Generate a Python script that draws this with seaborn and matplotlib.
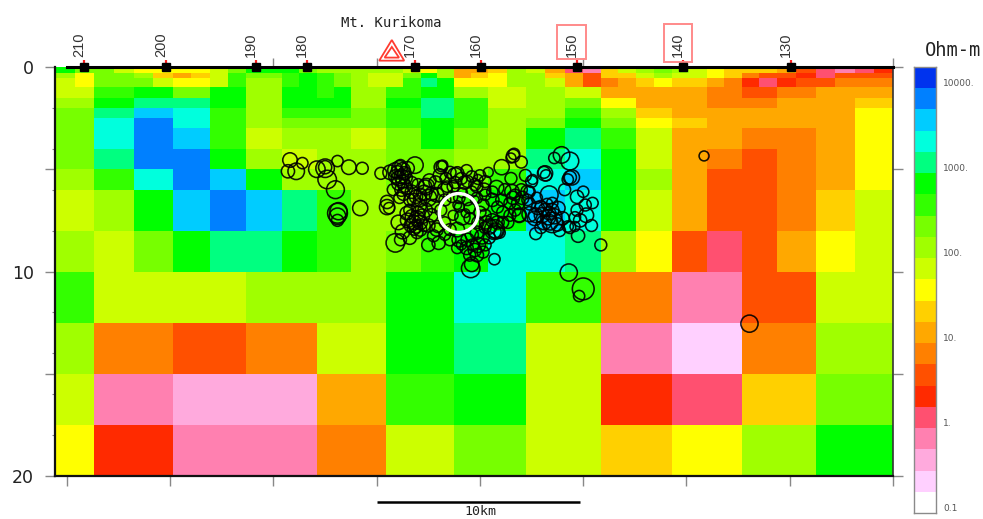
import numpy as np
import matplotlib
matplotlib.use("Agg")
import matplotlib.pyplot as plt
from matplotlib.colors import ListedColormap, BoundaryNorm
from matplotlib.patches import Polygon, Rectangle
import seaborn as sns

# colour classes, low resistivity to high (0.1 ... 10000+ ohm-m, four classes per decade)
class_colors = ["#ffffff", "#ffd0ff", "#ffaadd", "#ff80b0", "#ff5070", "#ff2a00", "#ff5000",
                "#ff8000", "#ffa800", "#ffd000", "#ffff00", "#ccff00", "#a0ff00", "#77ff00",
                "#33ff00", "#00ff00", "#00ff80", "#00ffdd", "#00ccff", "#0080ff", "#0033ee"]

distance_edges = [-0.58, 1.31, 3.24, 5.13, 6.92, 8.66, 10.41, 12.10, 13.75, 15.44, 17.13, 18.73,
                  20.38, 22.22, 24.10, 25.85, 27.54, 29.28, 30.98, 32.67, 34.37, 36.25, 38.14, 40.0]
depth_edges = [0, 0.3, 0.55, 1, 1.5, 2, 2.5, 3, 4, 5, 6, 8, 10, 12.5, 15, 17.5, 20]

# shallow layers: two values for each column
shallow_classes = [
    [15,13, 13,11, 10,10, 10,10, 11,13, 15,15, 15,13, 12,12, 12,12, 12,11, 10,12, 8,8,
     9,12, 11,8, 4,3, 9,11, 12,13, 12,11, 10,9, 9,9, 8,6, 4,3, 4,5],
    [12,10, 13,13, 12,9, 8,9, 11,14, 13,13, 14,15, 14,13, 12,11, 11,13, 15,12, 8,9,
     10,12, 12,9, 8,6, 9,9, 11,12, 11,11, 10,9, 7,6, 6,5, 4,6, 6,6],
    [11,10, 13,13, 13,11, 10,10, 11,14, 12,12, 14,15, 14,13, 12,11, 11,14, 16,15, 10,10,
     10,12, 12,11, 8,6, 7,8, 9,10, 9,9, 8,7, 5,4, 5,6, 6,7, 7,7],
    [11,11, 14,14, 15,15, 13,13, 15,15, 12,12, 15,15, 14,15, 12,12, 14,14, 15,15, 12,12,
     11,11, 12,12, 11,11, 8,8, 8,8, 8,8, 7,7, 6,6, 7,7, 8,8, 8,8],
]
# deeper layers: one value for each column
deep_classes = [
    [12,15,16,16,15,12,15,15,12,15,16,14,11,12,13,10,8,8,7,7,8,8,9],
    [13,16,18,17,14,12,14,14,13,14,16,14,12,12,14,12,9,8,8,8,8,8,10],
    [13,17,19,17,14,12,13,13,13,14,15,14,12,13,15,13,10,9,8,8,8,8,10],
    [13,17,19,18,14,11,12,12,11,13,15,13,12,15,16,14,11,8,8,7,7,8,10],
    [13,16,19,19,15,12,11,12,12,13,13,12,12,16,17,15,11,8,7,6,7,8,10],
    [12,14,17,19,18,15,12,12,12,13,13,13,14,17,18,15,12,8,6,6,7,8,10],
    [11,12,15,18,19,18,16,14,12,12,13,14,15,18,17,15,11,8,6,6,7,9,11],
    [12,11,13,15,16,16,15,14,12,13,14,15,17,17,16,12,10,6,4,6,8,10,11],
    [14,11,11,11,11,12,12,12,12,15,15,17,17,14,14,7,7,3,3,6,6,11,11],
    [12,7,7,6,6,7,7,11,11,15,15,16,16,11,11,3,3,1,1,7,7,12,12],
    [11,3,3,2,2,2,2,8,8,14,14,15,15,11,11,5,5,4,4,9,9,13,13],
    [10,5,5,3,3,3,3,7,7,11,11,13,13,11,11,9,9,10,10,12,12,15,15],
]

# stations along the profile
station_km = [0.82, 4.79, 9.15, 11.62, 16.84, 20.04, 24.69, 29.82, 35.04]
station_labels = ["210", "200", "190", "180", "170", "160", "150", "140", "130"]

# earthquakes
quake_km = [
    10.8,10.7,11.1,11.4,12.1,12.5,12.5,12.6,13.0,13.1,13.65,14.3,15.2,14.2,13.1,13.1,13.1,13.15,15.9,15.5,15.5,15.6,
    16.1,16.25,16.0,16.35,16.2,16.05,16.4,15.9,16.85,16.5,16.15,16.25,16.05,16.35,16.2,15.65,16.3,16.45,16.1,15.9,
    16.95,16.8,17.1,16.9,16.7,17.2,17.0,16.8,17.1,16.65,17.3,16.5,16.95,16.6,16.45,17.05,16.8,17.35,17.5,17.3,17.65,17.1,16.7,17.75,17.9,17.65,17.5,17.95,17.75,16.25,16.05,16.15,16.6,16.9,17.35,16.7,17.0,17.5,18.0,
    18.1,18.15,18.2,18.05,18.8,19.35,17.4,18.3,18.7,19.4,19.85,17.9,18.55,19.0,19.3,19.15,19.5,18.9,19.75,19.4,19.0,18.9,18.8,18.4,19.25,19.75,18.65,19.15,19.6,19.9,18.9,19.0,19.4,18.9,19.35,19.85,19.75,19.5,19.1,19.55,19.6,
    21.6,21.5,21.65,22.0,21.05,20.4,21.5,20.25,20.8,20.6,21.05,21.55,21.6,21.7,21.45,21.85,22.05,22.0,22.3,22.5,21.9,20.85,20.15,19.85,20.25,20.6,
    20.7,20.75,20.7,20.45,20.3,20.6,20.85,20.25,20.1,20.45,19.9,20.25,19.85,20.7,21.1,20.95,19.6,19.65,20.15,
    23.35,23.15,23.5,23.3,23.0,23.6,23.4,23.1,22.7,22.4,22.8,23.8,23.5,23.25,22.95,24.0,23.75,23.5,22.7,22.65,23.35,23.15,23.1,23.2,22.2,22.55,22.4,22.3,24.35,23.95,23.6,24.45,24.35,24.25,25.0,24.7,25.45,24.7,25.15,24.6,24.85,24.35,24.75,24.25,24.6,25.85,21.9,21.35,
    24.3,25.0,24.8,33.05,30.85,
    17.55,17.85,18.35,18.55,19.1,19.6,20.0,20.2,19.5,20.0,20.25,19.9,21.1,21.45,21.2,21.7,22.4,22.75,18.3,18.1,18.3,18.55,18.3,18.7,17.1,15.8,16.6,22.95,23.85,25.1,24.1,25.4,
]
quake_depth = [
    4.55,5.1,5.1,4.7,5.0,4.95,4.9,5.5,6.0,4.6,4.9,4.95,5.2,6.9,7.15,7.3,7.5,7.05,8.6,6.6,6.85,6.9,
    4.95,5.05,5.15,5.2,5.35,5.45,5.4,5.05,4.8,4.95,4.8,5.6,5.7,5.8,6.0,5.15,6.2,5.95,6.4,5.35,
    7.4,7.6,7.6,7.8,7.3,7.3,7.15,7.9,7.95,7.75,7.75,7.5,8.1,7.0,7.15,6.8,6.5,7.0,6.4,6.15,6.2,6.25,6.1,6.8,6.25,7.25,7.75,7.8,8.25,8.05,7.6,8.45,8.35,6.35,5.85,5.65,5.75,8.7,8.6,
    4.9,4.85,4.8,5.3,5.3,5.05,5.85,6.0,5.85,5.6,5.85,7.95,7.95,6.85,7.15,7.35,7.4,6.75,6.5,6.5,6.4,5.2,5.65,5.85,5.65,5.75,6.35,6.15,6.1,5.5,7.95,8.45,8.45,8.85,8.85,8.1,8.95,9.2,8.7,9.85,9.65,
    4.35,4.45,4.25,4.65,4.9,5.15,5.45,5.6,5.9,6.5,6.5,6.1,6.4,6.25,6.65,6.65,6.4,6.0,6.1,5.6,7.25,6.85,6.75,6.4,6.25,6.1,
    7.95,8.0,8.05,7.8,7.6,7.5,7.6,7.85,8.3,8.35,8.7,8.7,9.2,9.4,7.6,8.1,8.2,8.7,9.05,
    7.15,7.0,7.0,7.35,7.25,7.3,7.6,7.6,7.25,7.2,6.9,6.9,6.65,6.7,6.8,7.4,7.7,7.6,8.15,7.4,6.25,5.2,5.15,5.3,5.3,5.5,6.1,6.5,4.6,4.3,4.45,5.4,5.4,5.5,6.1,6.35,6.65,7.0,7.25,7.35,7.5,7.85,8.25,7.8,7.8,8.7,7.25,7.6,
    10.05,10.85,11.2,12.55,4.35,
    5.55,5.65,5.45,5.15,5.45,5.35,5.3,6.0,6.9,7.1,7.25,7.6,7.1,7.25,6.0,7.0,6.7,6.4,6.5,7.0,7.6,8.45,8.2,7.25,6.5,6.0,6.5,7.85,8.0,6.75,6.0,7.75,
]
quake_mag = [
    2.2,2.0,2.5,1.7,2.5,2.8,2.0,2.8,2.7,1.7,2.2,1.8,1.8,2.3,3.0,2.5,1.8,2.6,2.8,2.0,2.3,1.7,
    2.3,2.3,2.0,2.0,2.2,2.2,2.0,2.3,2.5,2.0,1.7,2.0,2.0,2.0,2.0,2.2,2.0,1.7,1.7,2.0,
    2.3,2.2,2.2,2.0,2.0,2.2,2.0,2.0,2.0,2.0,1.8,2.2,1.8,1.8,2.0,2.2,2.0,2.2,2.5,2.3,2.0,2.0,2.0,2.0,2.2,2.0,2.0,1.8,1.8,2.2,2.2,1.8,2.0,2.0,2.0,1.8,1.8,2.0,2.0,
    2.0,1.7,1.5,2.0,2.3,1.7,2.5,2.2,1.8,1.8,1.8,2.0,1.8,1.5,1.3,2.3,1.7,1.3,1.3,1.7,1.7,2.0,1.8,1.7,2.0,1.8,1.7,1.5,1.7,1.5,2.2,2.2,2.0,1.7,2.0,2.0,2.0,1.8,1.5,2.8,2.2,
    2.0,1.5,1.7,1.8,2.3,1.5,1.8,1.8,2.2,2.0,1.8,2.2,2.0,1.7,1.8,2.0,2.0,1.8,2.0,1.8,2.0,1.8,1.8,1.7,1.7,1.7,
    3.0,2.3,2.0,2.3,2.0,2.0,2.0,1.8,2.2,1.8,2.3,1.8,2.0,1.7,1.8,1.7,2.0,1.8,1.8,
    2.0,2.0,2.0,2.3,2.3,2.3,2.3,2.2,2.2,2.3,2.0,2.0,1.7,1.7,1.7,2.0,2.0,3.1,1.8,2.2,2.7,2.3,1.8,1.7,1.8,1.5,1.7,1.7,2.7,2.5,1.7,2.3,2.0,1.7,1.7,2.0,1.7,1.8,2.2,1.7,2.0,1.8,2.0,1.7,1.5,1.8,2.2,1.8,
    2.6,3.3,1.7,2.6,1.5,
    2.0,2.0,1.8,1.8,1.8,1.7,1.7,2.0,1.7,1.8,1.8,1.8,1.8,1.8,1.8,1.8,1.8,1.7,1.8,1.8,1.7,1.8,1.7,1.5,2.0,1.8,1.8,1.8,1.8,1.8,1.8,1.8,
]
main_km, main_depth, main_mag = [18.97], [7.14], [5.9]

px = 1 / 983, 1 / 519
sns.set_theme(style="ticks")
fig = plt.figure(figsize=(9.83, 5.19), dpi=100, facecolor="white")
ax = fig.add_axes([55 * px[0], 1 - 476 * px[1], 838 * px[0], 409 * px[1]])

cmap = ListedColormap(class_colors)
norm = BoundaryNorm(np.arange(-0.5, 21.5, 1), 21)

# full grid on half-column resolution
edges = np.array(distance_edges)
mids = (edges[:-1] + edges[1:]) / 2
fine_edges = np.sort(np.concatenate([edges, mids]))
grid = np.vstack([np.array(shallow_classes), np.repeat(np.array(deep_classes), 2, axis=1)])
ax.pcolormesh(fine_edges, depth_edges, grid, cmap=cmap, norm=norm, shading="flat", antialiased=False)

ax.set_xlim(-0.58, 40)
ax.set_ylim(20, 0)

scale = lambda m: (6.6 * np.asarray(m) * 0.72) ** 2
sns.scatterplot(x=quake_km, y=quake_depth, s=scale(quake_mag), ax=ax, marker="o", fc="none",
                ec="#000000", linewidth=1.15, alpha=0.9, legend=False, zorder=3)
sns.scatterplot(x=main_km, y=main_depth, s=scale(main_mag), ax=ax, marker="o", fc="none",
                ec="white", linewidth=2.4, legend=False, zorder=4)

# frame
for side, lw, col in [("left", 1.6, "#111111"), ("bottom", 1.6, "#111111"), ("right", 1.2, "#333333"), ("top", 2.2, "black")]:
    ax.spines[side].set_visible(True)
    ax.spines[side].set_linewidth(lw)
    ax.spines[side].set_color(col)
    ax.spines[side].set_zorder(5)
ax.spines["top"].set_bounds(0, 40)

ax.set_xticks(np.arange(0, 41, 5))
ax.set_xticklabels([])
ax.set_yticks([0, 5, 10, 15, 20])
ax.set_yticklabels(["0", "", "10", "", "20"], fontsize=12.5, color="#222222")
ax.set_yticks(np.arange(0, 21, 2), minor=True)
ax.tick_params(axis="x", which="major", bottom=True, top=False, length=7, width=1, color="#888888")
ax.tick_params(axis="y", which="major", left=True, right=True, length=7, width=1, color="#888888", pad=8)
ax.tick_params(axis="y", which="minor", left=True, right=False, length=2.5, width=0.8, color="#888888")
ax.vlines([10, 15, 25, 40], -0.45, 0, color="#888888", lw=1, clip_on=False, zorder=2)

# stations
ax.vlines(station_km, -0.34, 0, color="#ff2020", lw=1.6, clip_on=False, zorder=6)
ax.plot(station_km, np.zeros(len(station_km)), ls="none", marker="s", ms=6.2, color="black",
        clip_on=False, zorder=7)
for km, lab in zip(station_km, station_labels):
    ax.annotate(lab, (km, 0), xytext=(-3.6, 7), textcoords="offset points", rotation=90, ha="center",
                va="bottom", fontsize=10.5, family="Liberation Sans", color="#333333", annotation_clip=False)

# highlighted stations
for x0, x1, y0, y1 in [(23.72, 25.12, -2.05, -0.39), (28.9, 30.25, -2.1, -0.24)]:
    ax.add_patch(Rectangle((x0, y0), x1 - x0, y1 - y0, fc="none", ec="#ff8a8a", lw=1.4, clip_on=False, zorder=6))

# volcano
ax.add_patch(Polygon([(15.73, -1.32), (15.12, -0.31), (16.33, -0.31)], closed=True, fc="none", ec="#ff3b30",
                     lw=1.3, clip_on=False, zorder=6))
ax.add_patch(Polygon([(15.73, -0.98), (15.38, -0.46), (16.08, -0.46)], closed=True, fc="none", ec="#ff3b30",
                     lw=1.3, clip_on=False, zorder=6))
ax.text(15.7, -2.16, "Mt. Kurikoma", ha="center", va="center", fontsize=10, family="DejaVu Sans Mono",
        color="#222222", clip_on=False)

# scale bar
ax.plot([15.0, 24.85], [21.27, 21.27], color="black", lw=1.8, clip_on=False, solid_capstyle="butt")
ax.text(20.0, 22.05, "10km", ha="center", va="bottom", fontsize=9.5, family="DejaVu Sans Mono", color="#222222",
        clip_on=False)

# colour key
cax = fig.add_axes([914 * px[0], 1 - 513 * px[1], 22 * px[0], 446 * px[1]])
class_index = np.arange(21)
class_edges = 0.1 * 10 ** (np.arange(22) / 4)
cax.pcolormesh([0, 1], class_edges, class_index.reshape(-1, 1), cmap=cmap, norm=norm, shading="flat",
               antialiased=False)
cax.set_yscale("log")
cax.set_ylim(class_edges[0], class_edges[-1])
cax.set_xticks([])
cax.yaxis.tick_right()
cax.set_yticks([0.1, 1, 10, 100, 1000, 10000])
cax.set_yticklabels(["0.1", "1.", "10.", "100.", "1000.", "10000."], fontsize=6.5, color="#555555", va="bottom")
cax.minorticks_off()
cax.tick_params(axis="y", length=0, pad=5)
cax.set_xticks([])
for s in cax.spines.values():
    s.set_visible(True)
    s.set_color("#8a8a8a")
    s.set_linewidth(1.0)
fig.text(953.5 * px[0], 1 - 50 * px[1], "Ohm-m", ha="center", va="center", fontsize=13.5,
         family="DejaVu Sans Mono", color="#222222")

assert len(quake_km) == len(quake_depth) == len(quake_mag)
fig.savefig("out.png", dpi=100)
